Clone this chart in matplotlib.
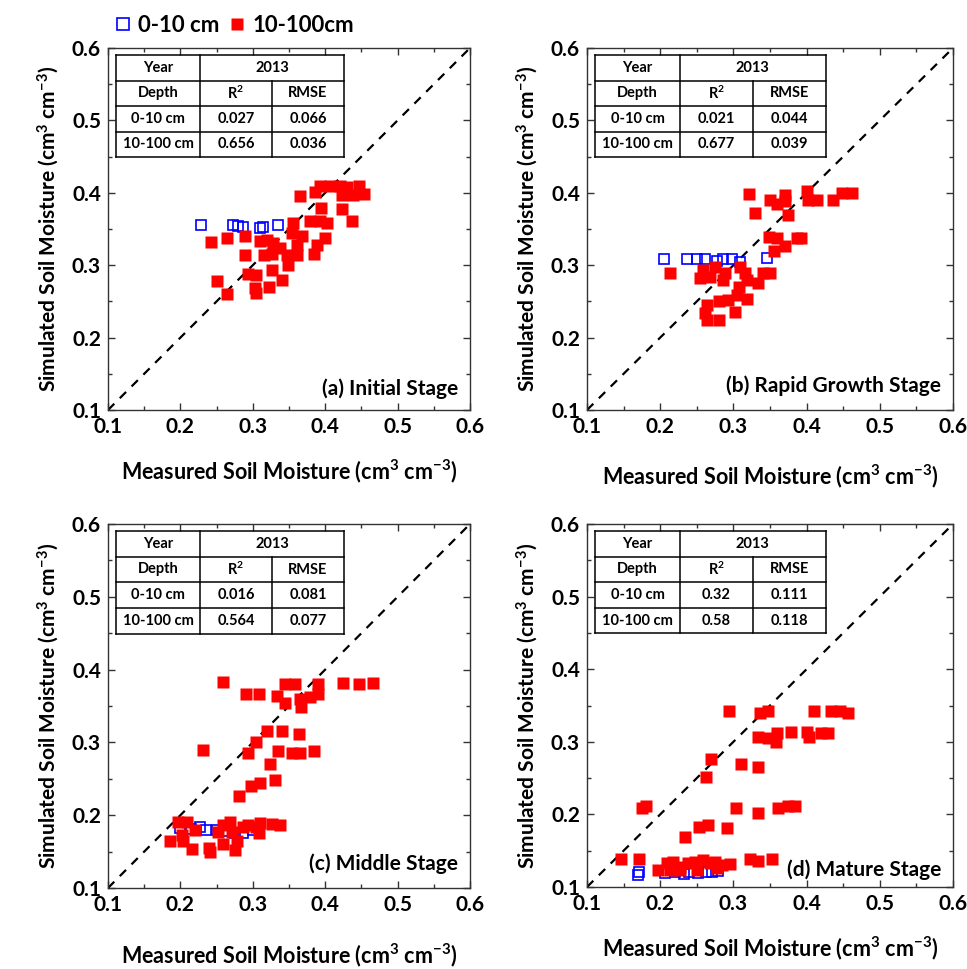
import numpy as np
import matplotlib
matplotlib.use("Agg")
import matplotlib.pyplot as plt
from matplotlib.lines import Line2D

plt.rcParams['font.family'] = ['Lato', 'DejaVu Sans']
plt.rcParams['font.weight'] = 'bold'
plt.rcParams['mathtext.fontset'] = 'custom'
plt.rcParams['mathtext.rm'] = 'Lato:bold'
plt.rcParams['mathtext.bf'] = 'Lato:bold'
plt.rcParams['mathtext.default'] = 'bf'

# ---- data ----
stages = ["(a) Initial Stage", "(b) Rapid Growth Stage", "(c) Middle Stage", "(d) Mature Stage"]

r2_0_10 = ["0.027", "0.021", "0.016", "0.32"]
rmse_0_10 = ["0.066", "0.044", "0.081", "0.111"]
r2_10_100 = ["0.656", "0.677", "0.564", "0.58"]
rmse_10_100 = ["0.036", "0.039", "0.077", "0.118"]

# (a) initial stage
a_blue_x = [0.228, 0.272, 0.280, 0.287, 0.310, 0.314, 0.335]
a_blue_y = [0.355, 0.355, 0.354, 0.353, 0.352, 0.353, 0.355]
a_red_x = [0.242, 0.264, 0.289, 0.289, 0.251, 0.265, 0.294, 0.305, 0.303, 0.305,
           0.322, 0.327, 0.341, 0.310, 0.319, 0.328, 0.315, 0.326, 0.338, 0.347,
           0.349, 0.361, 0.356, 0.354, 0.368, 0.361, 0.384, 0.388, 0.400, 0.365,
           0.379, 0.393, 0.402, 0.394, 0.423, 0.437, 0.386, 0.393, 0.407, 0.420,
           0.430, 0.446, 0.453, 0.423, 0.439]
a_red_y = [0.332, 0.337, 0.341, 0.314, 0.278, 0.260, 0.288, 0.287, 0.268, 0.261,
           0.270, 0.293, 0.280, 0.333, 0.335, 0.330, 0.314, 0.316, 0.324, 0.314,
           0.300, 0.314, 0.358, 0.344, 0.340, 0.328, 0.316, 0.328, 0.337, 0.395,
           0.361, 0.361, 0.358, 0.379, 0.378, 0.361, 0.401, 0.409, 0.409, 0.409,
           0.408, 0.409, 0.399, 0.397, 0.397]

# (b) rapid growth stage
b_blue_x = [0.205, 0.237, 0.250, 0.261, 0.277, 0.286, 0.298, 0.309, 0.346]
b_blue_y = [0.308, 0.308, 0.309, 0.309, 0.306, 0.308, 0.308, 0.305, 0.310]
b_red_x = [0.213, 0.259, 0.268, 0.255, 0.275, 0.289, 0.286, 0.309, 0.316, 0.318,
           0.334, 0.341, 0.350, 0.307, 0.305, 0.318, 0.293, 0.280, 0.264, 0.261,
           0.264, 0.280, 0.302, 0.348, 0.359, 0.371, 0.355, 0.387, 0.393, 0.330,
           0.374, 0.321, 0.350, 0.359, 0.371, 0.371, 0.400, 0.402, 0.414, 0.436,
           0.448, 0.462]
b_red_y = [0.289, 0.293, 0.284, 0.282, 0.298, 0.289, 0.280, 0.298, 0.289, 0.280,
           0.275, 0.289, 0.289, 0.270, 0.259, 0.254, 0.252, 0.250, 0.245, 0.234,
           0.224, 0.224, 0.236, 0.339, 0.337, 0.326, 0.319, 0.337, 0.337, 0.372,
           0.369, 0.399, 0.390, 0.385, 0.397, 0.388, 0.402, 0.390, 0.390, 0.390,
           0.400, 0.400]

# (c) middle stage
c_blue_x = [0.199, 0.215, 0.227, 0.236, 0.250, 0.262, 0.275, 0.287, 0.300]
c_blue_y = [0.182, 0.181, 0.184, 0.179, 0.180, 0.178, 0.176, 0.176, 0.180]
c_red_x = [0.259, 0.291, 0.308, 0.333, 0.344, 0.358, 0.344, 0.365, 0.367, 0.379,
           0.390, 0.390, 0.425, 0.447, 0.466, 0.319, 0.340, 0.364, 0.305, 0.231,
           0.294, 0.335, 0.354, 0.365, 0.384, 0.324, 0.298, 0.310, 0.331, 0.281,
           0.197, 0.209, 0.220, 0.202, 0.186, 0.204, 0.216, 0.239, 0.241, 0.252,
           0.259, 0.269, 0.271, 0.259, 0.278, 0.275, 0.287, 0.294, 0.305, 0.310,
           0.308, 0.326, 0.337]
c_red_y = [0.383, 0.366, 0.366, 0.364, 0.380, 0.380, 0.354, 0.359, 0.348, 0.363,
           0.366, 0.380, 0.382, 0.380, 0.381, 0.316, 0.316, 0.311, 0.300, 0.290,
           0.285, 0.288, 0.285, 0.285, 0.288, 0.271, 0.240, 0.244, 0.249, 0.226,
           0.191, 0.191, 0.180, 0.173, 0.164, 0.164, 0.153, 0.155, 0.150, 0.177,
           0.187, 0.191, 0.177, 0.161, 0.164, 0.152, 0.184, 0.187, 0.184, 0.189,
           0.175, 0.188, 0.186]

# (d) mature stage
d_blue_x = [0.170, 0.171, 0.206, 0.220, 0.232, 0.240, 0.252, 0.263, 0.271, 0.279]
d_blue_y = [0.116, 0.121, 0.119, 0.120, 0.118, 0.121, 0.119, 0.121, 0.120, 0.122]
d_red_x = [0.294, 0.336, 0.347, 0.410, 0.434, 0.445, 0.456, 0.333, 0.347, 0.358,
           0.359, 0.379, 0.401, 0.403, 0.420, 0.429, 0.270, 0.311, 0.334, 0.262,
           0.175, 0.180, 0.303, 0.334, 0.361, 0.375, 0.384, 0.253, 0.265, 0.234,
           0.291, 0.147, 0.171, 0.322, 0.334, 0.353, 0.296, 0.197, 0.209, 0.218,
           0.227, 0.238, 0.247, 0.259, 0.268, 0.275, 0.277, 0.227, 0.250, 0.213,
           0.285]
d_red_y = [0.342, 0.340, 0.342, 0.343, 0.342, 0.343, 0.340, 0.307, 0.305, 0.300,
           0.312, 0.313, 0.314, 0.306, 0.312, 0.312, 0.276, 0.270, 0.265, 0.251,
           0.209, 0.212, 0.209, 0.202, 0.209, 0.211, 0.211, 0.183, 0.185, 0.169,
           0.181, 0.139, 0.139, 0.139, 0.136, 0.139, 0.132, 0.124, 0.133, 0.135,
           0.128, 0.133, 0.135, 0.137, 0.133, 0.135, 0.126, 0.123, 0.123, 0.123,
           0.130]

blue_x = [a_blue_x, b_blue_x, c_blue_x, d_blue_x]
blue_y = [a_blue_y, b_blue_y, c_blue_y, d_blue_y]
red_x = [a_red_x, b_red_x, c_red_x, d_red_x]
red_y = [a_red_y, b_red_y, c_red_y, d_red_y]

stage_y = [0.058, 0.066, 0.066, 0.047]
xlabel_pad = [15, 18, 19, 15]

# panel positions in figure fraction [left, bottom, width, height]
W, H = 967, 969
boxes = [
    [108 / W, (H - 410) / H, 362 / W, 362 / H],
    [587 / W, (H - 410) / H, 366 / W, 362 / H],
    [108 / W, (H - 888) / H, 362 / W, 364 / H],
    [587 / W, (H - 887) / H, 366 / W, 363 / H],
]


def draw_table(ax, r2a, rmsea, r2b, rmseb):
    cols = [0.022, 0.254, 0.453, 0.652]
    rows = [0.981, 0.910, 0.840, 0.769, 0.699]
    kw = dict(transform=ax.transAxes, color='black', lw=1.1, zorder=6)
    for y in rows:
        ax.plot([cols[0], cols[-1]], [y, y], **kw)
    ax.plot([cols[0], cols[0]], [rows[0], rows[-1]], **kw)
    ax.plot([cols[1], cols[1]], [rows[0], rows[-1]], **kw)
    ax.plot([cols[3], cols[3]], [rows[0], rows[-1]], **kw)
    ax.plot([cols[2], cols[2]], [rows[1], rows[-1]], **kw)
    cells = [
        [("Year", 0, 1), ("2013", 1, 3)],
        [("Depth", 0, 1), ("R$^2$", 1, 2), ("RMSE", 2, 3)],
        [("0-10 cm", 0, 1), (r2a, 1, 2), (rmsea, 2, 3)],
        [("10-100 cm", 0, 1), (r2b, 1, 2), (rmseb, 2, 3)],
    ]
    for i, row in enumerate(cells):
        yc = (rows[i] + rows[i + 1]) / 2
        for txt, c0, c1 in row:
            xc = (cols[c0] + cols[c1]) / 2
            ax.text(xc, yc, txt, transform=ax.transAxes, ha='center', va='center',
                    fontsize=10.5, fontweight='bold', zorder=7)


fig = plt.figure(figsize=(W / 100, H / 100), dpi=100)

for k in range(4):
    ax = fig.add_axes(boxes[k])
    ax.plot([0.1, 0.6], [0.1, 0.6], color='black', lw=1.6, ls=(0, (4, 3.5)), zorder=2)
    ax.plot(blue_x[k], blue_y[k], 's', ms=7, mfc='none', mec='#0000ff', mew=1.2, zorder=3)
    ax.plot(red_x[k], red_y[k], 's', ms=8, color='#ff0000', mec='none', zorder=4)

    ax.set_xlim(0.1, 0.6)
    ax.set_ylim(0.1, 0.6)
    ticks = np.arange(0.1, 0.61, 0.1)
    ax.set_xticks(ticks)
    ax.set_yticks(ticks)
    ax.set_xticklabels([f"{t:.1f}" for t in ticks])
    ax.set_yticklabels([f"{t:.1f}" for t in ticks])
    ax.set_xticks(np.arange(0.15, 0.6, 0.1), minor=True)
    ax.set_yticks(np.arange(0.15, 0.6, 0.1), minor=True)
    ax.tick_params(which='both', direction='in', top=True, right=True, width=1, color='#333333')
    ax.tick_params(which='major', length=5, labelsize=15, pad=5)
    ax.tick_params(which='minor', length=3)
    for lab in ax.get_xticklabels() + ax.get_yticklabels():
        lab.set_fontweight('bold')
    for sp in ax.spines.values():
        sp.set_linewidth(1.0)
        sp.set_color('#333333')

    ax.set_xlabel("Measured Soil Moisture (cm$^3$ cm$^{-3}$)", fontsize=15.5,
                  fontweight='bold', labelpad=xlabel_pad[k])
    ax.set_ylabel("Simulated Soil Moisture (cm$^3$ cm$^{-3}$)", fontsize=15,
                  fontweight='bold', labelpad=8)
    ax.text(0.967, stage_y[k], stages[k], transform=ax.transAxes, ha='right', va='center',
            fontsize=15, fontweight='bold', zorder=8)
    draw_table(ax, r2_0_10[k], rmse_0_10[k], r2_10_100[k], rmse_10_100[k])

handles = [
    Line2D([], [], ls='none', marker='s', ms=8, mfc='none', mec='#0000ff', mew=1.2),
    Line2D([], [], ls='none', marker='s', ms=9, color='#ff0000', mec='none'),
]
fig.legend(handles, ["0-10 cm", "10-100cm"], loc='center left', bbox_to_anchor=(0.097, 0.974),
           ncol=2, frameon=False, handletextpad=0.3, columnspacing=0.4,
           handlelength=0.8, prop={'weight': 'bold', 'size': 16})

fig.savefig("out.png", dpi=100)
